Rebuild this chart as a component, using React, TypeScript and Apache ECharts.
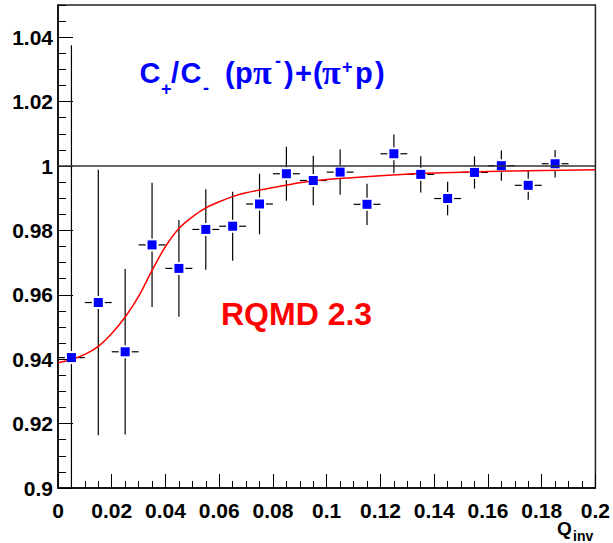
import React, { useEffect, useRef } from "react";
import * as echarts from "echarts";

// ---- data ----
const qCenters = [0.005, 0.015, 0.025, 0.035, 0.045, 0.055, 0.065, 0.075, 0.085, 0.095, 0.105, 0.115, 0.125, 0.135, 0.145, 0.155, 0.165, 0.175, 0.185];
const ratio = [0.9405, 0.9576, 0.9423, 0.9755, 0.9682, 0.9803, 0.9813, 0.9882, 0.9976, 0.9955, 0.9981, 0.9881, 1.0038, 0.9974, 0.9899, 0.998, 1.0001, 0.994, 1.0007];
const ratioErr = [0.097, 0.0412, 0.0257, 0.0193, 0.015, 0.0125, 0.0107, 0.0094, 0.0084, 0.0077, 0.007, 0.0064, 0.006, 0.0056, 0.0052, 0.005, 0.0047, 0.0045, 0.0043];
const qHalfBin = [0.005, 0.005, 0.005, 0.005, 0.005, 0.005, 0.005, 0.005, 0.005, 0.005, 0.005, 0.005, 0.005, 0.005, 0.005, 0.005, 0.005, 0.005, 0.005];

// RQMD 2.3 curve
const curveQ = [0, 0.005, 0.01, 0.015, 0.02, 0.025, 0.03, 0.035, 0.04, 0.045, 0.05, 0.055, 0.06, 0.065, 0.07, 0.08, 0.09, 0.1, 0.12, 0.14, 0.16, 0.18, 0.2];
const curveRatio = [0.9389, 0.9399, 0.9415, 0.944, 0.948, 0.9531, 0.9595, 0.9676, 0.975, 0.9806, 0.9842, 0.987, 0.9889, 0.9905, 0.9917, 0.9933, 0.9948, 0.9958, 0.997, 0.9978, 0.9983, 0.9986, 0.9988];

const referenceLevel = 1;
const xMin = 0, xMax = 0.2, xStep = 0.02;
const yMin = 0.9, yMax = 1.05, yStep = 0.02, yMinorStep = 0.005;

const SANS = "'Liberation Sans', Arial, sans-serif";
const SERIF = "'Liberation Serif', 'Times New Roman', serif";
const BLUE = "#0000ff";

function txt(text: string, x: number, y: number, size: number, color: string, family = SANS, weight = "bold") {
  return {
    type: "text",
    x,
    y,
    z: 100,
    style: {
      text,
      fill: color,
      fontSize: size,
      fontWeight: weight,
      fontFamily: family,
      align: "left",
      verticalAlign: "middle",
      textAlign: "left",
      textVerticalAlign: "middle",
    },
  };
}

export default function App() {
  const ref = useRef<HTMLDivElement>(null);

  useEffect(() => {
    if (!ref.current) return;
    const chart = echarts.init(ref.current, undefined, { renderer: "svg" });

    const points = qCenters.map((q, i) => [q, ratio[i], ratioErr[i], qHalfBin[i]]);
    const curve = curveQ.map((q, i) => [q, curveRatio[i]]);

    const labelStyle = { color: "#000", fontSize: 21, fontWeight: "bold", fontFamily: SANS };

    const option: any = {
      animation: false,
      backgroundColor: "#fff",
      grid: {
        left: 58,
        top: 5,
        right: 15,
        bottom: 55,
        show: true,
        borderColor: "#222",
        borderWidth: 1.5,
        backgroundColor: "transparent",
      },
      xAxis: {
        type: "value",
        min: xMin,
        max: xMax,
        interval: xStep,
        axisLine: { show: true, lineStyle: { color: "#000", width: 1.5 } },
        axisTick: { show: true, inside: true, length: 14, lineStyle: { color: "#000", width: 1 } },
        minorTick: { show: true, splitNumber: 4, length: 7, lineStyle: { color: "#000", width: 1 } },
        splitLine: { show: false },
        minorSplitLine: { show: false },
        axisLabel: { ...labelStyle, margin: 12 },
      },
      yAxis: [
        {
          type: "value",
          min: yMin,
          max: yMax,
          interval: yStep,
          axisLine: { show: true, lineStyle: { color: "#000", width: 1.5 } },
          axisTick: { show: true, inside: true, length: 15, lineStyle: { color: "#000", width: 1 } },
          splitLine: { show: false },
          axisLabel: { ...labelStyle, margin: 5, showMaxLabel: false },
        },
        {
          type: "value",
          min: yMin,
          max: yMax,
          interval: yMinorStep,
          position: "left",
          axisLine: { show: false },
          axisTick: { show: true, inside: true, length: 8, lineStyle: { color: "#000", width: 1 } },
          splitLine: { show: false },
          axisLabel: { show: false },
        },
      ],
      series: [
        {
          type: "line",
          data: [],
          z: 1,
          markLine: {
            silent: true,
            symbol: ["none", "none"],
            label: { show: false },
            lineStyle: { color: "#333", width: 1.5, type: "solid" },
            data: [{ yAxis: referenceLevel }],
          },
        },
        {
          type: "custom",
          z: 2,
          data: points,
          renderItem: (params: any, api: any) => {
            const x = api.value(0);
            const y = api.value(1);
            const e = api.value(2);
            const ex = api.value(3);
            const c = api.coord([x, y]);
            const top = api.coord([x, y + e])[1];
            const bot = api.coord([x, y - e])[1];
            const left = api.coord([x - ex, y])[0];
            const right = api.coord([x + ex, y])[0];
            const cs = params.coordSys;
            const t = Math.max(top, cs.y);
            const b = Math.min(bot, cs.y + cs.height);
            const l = Math.max(left, cs.x);
            const r = Math.min(right, cs.x + cs.width);
            const g = 6.5;
            const style = { stroke: "#000", lineWidth: 1.2 };
            const children: any[] = [];
            if (c[1] - g > t) children.push({ type: "line", shape: { x1: c[0], y1: t, x2: c[0], y2: c[1] - g }, style });
            if (b > c[1] + g) children.push({ type: "line", shape: { x1: c[0], y1: c[1] + g, x2: c[0], y2: b }, style });
            if (c[0] - g > l) children.push({ type: "line", shape: { x1: l, y1: c[1], x2: c[0] - g, y2: c[1] }, style });
            if (r > c[0] + g) children.push({ type: "line", shape: { x1: c[0] + g, y1: c[1], x2: r, y2: c[1] }, style });
            return { type: "group", children };
          },
        },
        {
          type: "line",
          data: curve,
          smooth: 0.3,
          symbol: "none",
          z: 3,
          lineStyle: { color: "#ff0000", width: 1.5 },
        },
        {
          type: "scatter",
          data: points.map((p) => [p[0], p[1]]),
          symbol: "rect",
          symbolSize: 9,
          z: 4,
          itemStyle: { color: BLUE, opacity: 1 },
        },
      ],
      graphic: [
        txt("C", 139.5, 73, 29, BLUE),
        txt("+", 161, 89, 18, BLUE),
        txt("/", 171, 73, 29, BLUE),
        txt("C", 180.5, 73, 29, BLUE),
        txt("-", 203, 88, 18, BLUE),
        txt("(", 225, 73, 29, BLUE),
        txt("p", 235, 73, 29, BLUE),
        txt("π", 253, 72, 34, BLUE, SERIF, "bold"),
        txt("-", 275, 61, 18, BLUE),
        txt(")", 284, 73, 29, BLUE),
        txt("+", 295, 73, 29, BLUE),
        txt("(", 313, 73, 29, BLUE),
        txt("π", 322, 72, 34, BLUE, SERIF, "bold"),
        txt("+", 342, 67, 18, BLUE),
        txt("p", 355, 73, 29, BLUE),
        txt(")", 375, 73, 29, BLUE),
        txt("RQMD 2.3", 221, 314, 32, "#ff0000"),
        txt("Q", 557, 528, 19, "#000"),
        txt("inv", 573, 536, 14, "#000"),
      ],
    };

    chart.setOption(option);
    return () => chart.dispose();
  }, []);

  return <div ref={ref} style={{ width: 613, height: 543, position: "absolute", left: 0, top: 0 }} />;
}
